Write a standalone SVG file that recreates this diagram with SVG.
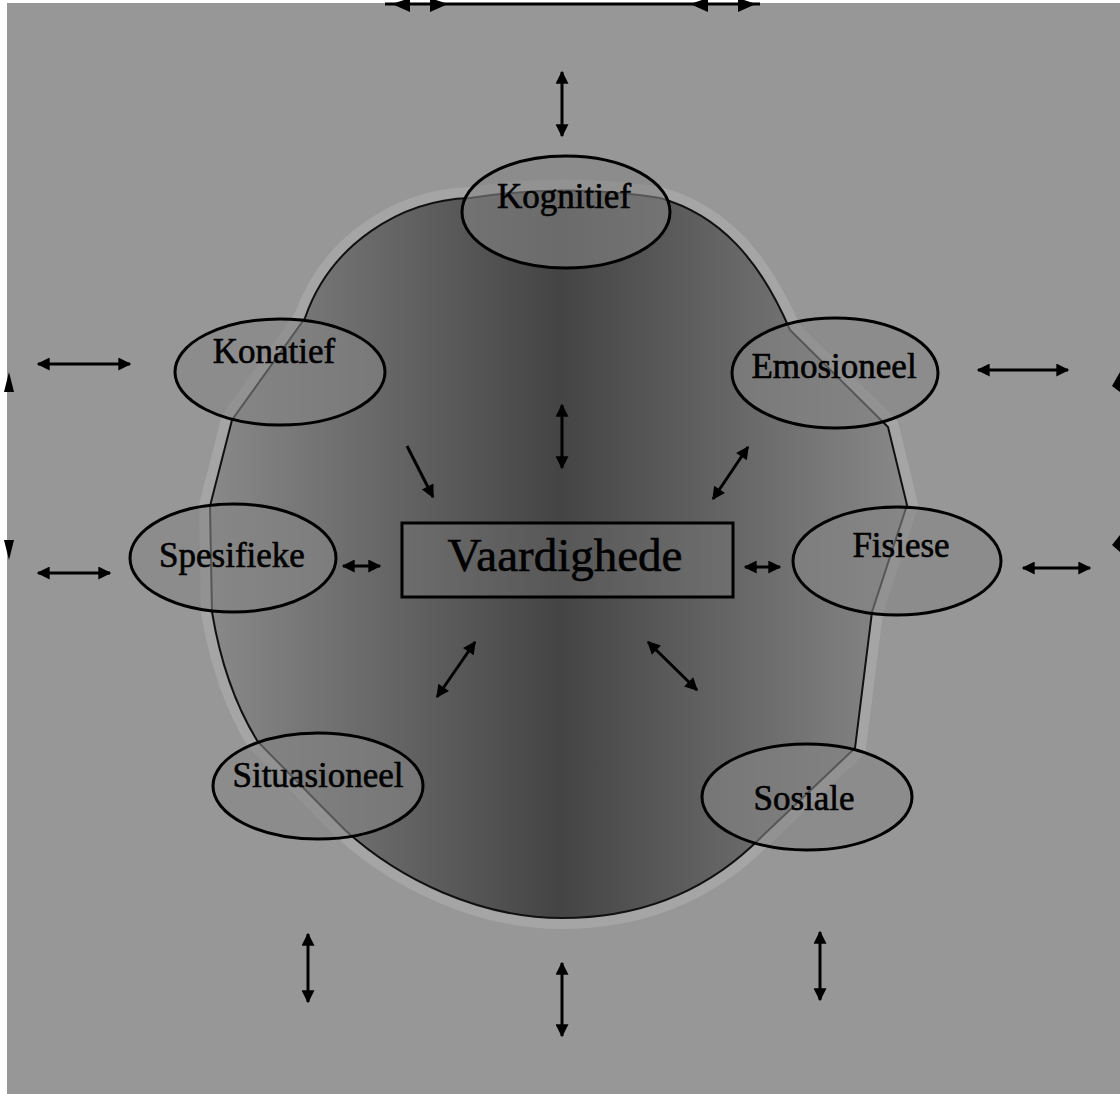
<svg xmlns="http://www.w3.org/2000/svg" width="1120" height="1094" viewBox="0 0 1120 1094">
  <style>
    .node ellipse { fill: #858585; fill-opacity: 0.6; stroke: #000; stroke-width: 3; }
    .label { font-family: "Liberation Serif", "Times New Roman", serif; font-size: 35px; fill: #000; stroke: #000; stroke-width: 0.6; text-anchor: middle; }
    .big { font-size: 47px; }
    .conn line { stroke: #000; stroke-width: 3; }
    .edge { fill: #000; }
  </style>
  <defs>
    <marker id="ah" viewBox="0 0 10 10" refX="9" refY="5" markerWidth="18" markerHeight="13" markerUnits="userSpaceOnUse" orient="auto-start-reverse">
      <path d="M0,0 L10,5 L0,10 Z" fill="#000"/>
    </marker>
    <linearGradient id="blobGrad" gradientUnits="userSpaceOnUse" x1="205" y1="0" x2="915" y2="0">
      <stop offset="0" stop-color="#8a8a8a"/>
      <stop offset="0.5" stop-color="#444444"/>
      <stop offset="1" stop-color="#8a8a8a"/>
    </linearGradient>
  </defs>

  <!-- background -->
  <rect x="0" y="0" width="1120" height="1094" fill="#979797"/>
  <rect x="0" y="0" width="7" height="1094" fill="#ffffff"/>
  <rect x="0" y="0" width="1120" height="3" fill="#ffffff"/>

  <!-- blob -->
  <g id="blob">
    <path d="M 470,198 C 400,200 330,245 305,318 L 232,420 L 210,506 L 212,612 C 220,660 235,705 258,742 L 345,830 C 400,880 480,918 562,918 C 650,918 710,885 752,846 L 855,748 L 872,612 L 907,505 L 888,427 L 790,330 C 760,260 720,215 660,198 Q 566,183 470,198 Z" fill="none" stroke="#b4b4b4" stroke-width="22" stroke-opacity="0.5"/>
    <path d="M 470,198 C 400,200 330,245 305,318 L 232,420 L 210,506 L 212,612 C 220,660 235,705 258,742 L 345,830 C 400,880 480,918 562,918 C 650,918 710,885 752,846 L 855,748 L 872,612 L 907,505 L 888,427 L 790,330 C 760,260 720,215 660,198 Q 566,183 470,198 Z" fill="url(#blobGrad)" stroke="#111" stroke-width="2"/>
  </g>

  <!-- frame edge arrows -->
  <g id="frame">
    <line x1="385" y1="4" x2="760" y2="4" stroke="#000" stroke-width="3"/>
    <path class="edge" d="M392,4 L410,-2 L410,12 Z"/>
    <path class="edge" d="M448,4 L430,-2 L430,12 Z"/>
    <path class="edge" d="M690,4 L708,-2 L708,12 Z"/>
    <path class="edge" d="M756,4 L738,-2 L738,12 Z"/>
    <path class="edge" d="M9,372 L4,392 L14,392 Z"/>
    <path class="edge" d="M9,560 L4,540 L14,540 Z"/>
    <path class="edge" d="M1120,372 L1112,386 L1120,392 Z"/>
    <path class="edge" d="M1120,535 L1112,545 L1120,552 Z"/>
  </g>

  <!-- connectors -->
  <g id="connectors" class="conn">
    <line x1="562" y1="72" x2="562" y2="136" marker-start="url(#ah)" marker-end="url(#ah)"/>
    <line x1="562" y1="405" x2="562" y2="468" marker-start="url(#ah)" marker-end="url(#ah)"/>
    <line x1="38" y1="364" x2="130" y2="364" marker-start="url(#ah)" marker-end="url(#ah)"/>
    <line x1="38" y1="573" x2="110" y2="573" marker-start="url(#ah)" marker-end="url(#ah)"/>
    <line x1="978" y1="370" x2="1068" y2="370" marker-start="url(#ah)" marker-end="url(#ah)"/>
    <line x1="1023" y1="568" x2="1090" y2="568" marker-start="url(#ah)" marker-end="url(#ah)"/>
    <line x1="407" y1="446" x2="433" y2="497" marker-end="url(#ah)"/>
    <line x1="748" y1="447" x2="713" y2="499" marker-start="url(#ah)" marker-end="url(#ah)"/>
    <line x1="343" y1="566" x2="380" y2="566" marker-start="url(#ah)" marker-end="url(#ah)"/>
    <line x1="745" y1="567" x2="780" y2="567" marker-start="url(#ah)" marker-end="url(#ah)"/>
    <line x1="475" y1="642" x2="437" y2="697" marker-start="url(#ah)" marker-end="url(#ah)"/>
    <line x1="648" y1="642" x2="697" y2="690" marker-start="url(#ah)" marker-end="url(#ah)"/>
    <line x1="308" y1="934" x2="308" y2="1002" marker-start="url(#ah)" marker-end="url(#ah)"/>
    <line x1="562" y1="963" x2="562" y2="1036" marker-start="url(#ah)" marker-end="url(#ah)"/>
    <line x1="820" y1="932" x2="820" y2="1000" marker-start="url(#ah)" marker-end="url(#ah)"/>
  </g>

  <!-- nodes -->
  <g id="kognitief" class="node">
    <ellipse cx="566" cy="212" rx="104" ry="56"/>
    <text class="label" x="564" y="208">Kognitief</text>
  </g>
  <g id="konatief" class="node">
    <ellipse cx="280" cy="372" rx="105" ry="53"/>
    <text class="label" x="274" y="363">Konatief</text>
  </g>
  <g id="emosioneel" class="node">
    <ellipse cx="835" cy="373" rx="103" ry="55"/>
    <text class="label" x="834" y="378">Emosioneel</text>
  </g>
  <g id="spesifieke" class="node">
    <ellipse cx="233" cy="558" rx="103" ry="54"/>
    <text class="label" x="232" y="567">Spesifieke</text>
  </g>
  <g id="vaardighede" class="node">
    <rect x="402" y="523" width="331" height="74" fill="#858585" fill-opacity="0.3" stroke="#000" stroke-width="3"/>
    <text class="label big" x="565" y="571">Vaardighede</text>
  </g>
  <g id="fisiese" class="node">
    <ellipse cx="897" cy="561" rx="104" ry="54"/>
    <text class="label" x="901" y="557">Fisiese</text>
  </g>
  <g id="situasioneel" class="node">
    <ellipse cx="318" cy="786" rx="105" ry="53"/>
    <text class="label" x="318" y="787">Situasioneel</text>
  </g>
  <g id="sosiale" class="node">
    <ellipse cx="807" cy="797" rx="105" ry="53"/>
    <text class="label" x="804" y="810">Sosiale</text>
  </g>
</svg>
